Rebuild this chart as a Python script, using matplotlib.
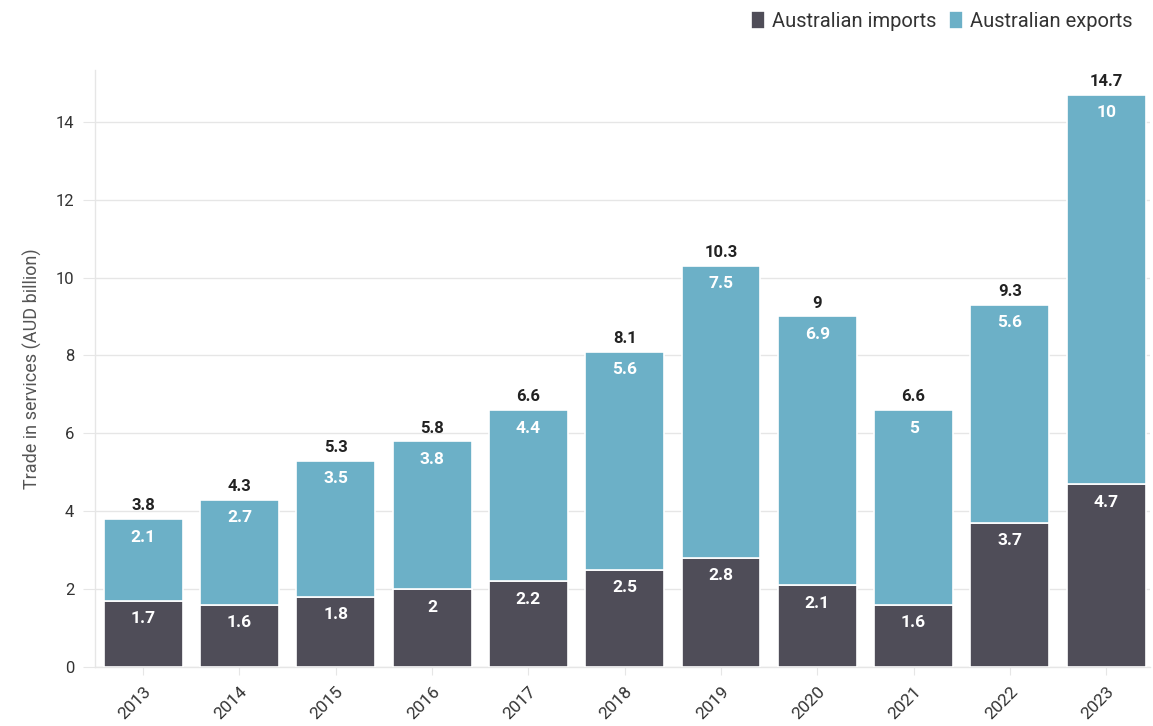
import matplotlib
matplotlib.use("Agg")
import matplotlib.pyplot as plt
import numpy as np

years = ["2013", "2014", "2015", "2016", "2017", "2018", "2019", "2020", "2021", "2022", "2023"]
imports = [1.7, 1.6, 1.8, 2, 2.2, 2.5, 2.8, 2.1, 1.6, 3.7, 4.7]
exports = [2.1, 2.7, 3.5, 3.8, 4.4, 5.6, 7.5, 6.9, 5, 5.6, 10]
yticks = [0, 2, 4, 6, 8, 10, 12, 14]

c_imp = "#4f4d58"
c_exp = "#6cb0c7"
grid_c = "#e6e6e6"

plt.rcParams['font.family'] = ['Roboto', 'DejaVu Sans']

fig = plt.figure(figsize=(11.53, 7.26), dpi=100)
ax = fig.add_axes([0.0824, 0.0813, 0.9146, 0.8223])

x = np.arange(len(years))
imp = np.array(imports, dtype=float)
exp_ = np.array(exports, dtype=float)
tot = imp + exp_

b1 = ax.bar(x, imp, width=0.82, color=c_imp, edgecolor="white", linewidth=1.2, label="Australian imports", zorder=3)
b2 = ax.bar(x, exp_, bottom=imp, width=0.82, color=c_exp, edgecolor="white", linewidth=1.2, label="Australian exports", zorder=3)

for xi, a, b, t in zip(x, imp, exp_, tot):
    ax.annotate(f"{a:g}", (xi, a), xytext=(0, -13), textcoords="offset points",
                ha="center", va="center", color="white", fontsize=12.5, fontweight="bold", zorder=4)
    ax.annotate(f"{b:g}", (xi, a + b), xytext=(0, -13), textcoords="offset points",
                ha="center", va="center", color="white", fontsize=12.5, fontweight="bold", zorder=4)
    ax.annotate(f"{round(t, 1):g}", (xi, t), xytext=(0, 4), textcoords="offset points",
                ha="center", va="bottom", color="#222222", fontsize=12, fontweight="bold", zorder=4)

ax.set_xlim(-0.5, 10.45)
ax.set_ylim(0, 15.33)
ax.set_yticks(yticks)
ax.set_xticks(x)
ax.set_xticklabels(years, rotation=45, ha="right", rotation_mode="anchor")
ax.yaxis.grid(True, color=grid_c, linewidth=1, zorder=0)
ax.set_axisbelow(True)

for s in ["top", "right"]:
    ax.spines[s].set_visible(False)
for s in ["left", "bottom"]:
    ax.spines[s].set_color(grid_c)
    ax.spines[s].set_linewidth(1)

ax.tick_params(axis="y", length=9, color=grid_c, labelcolor="#333333", labelsize=12, pad=6)
ax.tick_params(axis="x", length=6, color=grid_c, labelcolor="#333333", labelsize=12.5, pad=6)

ax.set_ylabel("Trade in services (AUD billion)", color="#555555", fontsize=13, labelpad=10)

fig.legend(handles=[b1, b2], loc="upper right", bbox_to_anchor=(0.998, 1.01), ncol=2,
           frameon=False, fontsize=14.5, handlelength=0.7, handleheight=1.0,
           handletextpad=0.35, columnspacing=0.6, labelcolor="#333333")

fig.savefig("out.png", dpi=100)
